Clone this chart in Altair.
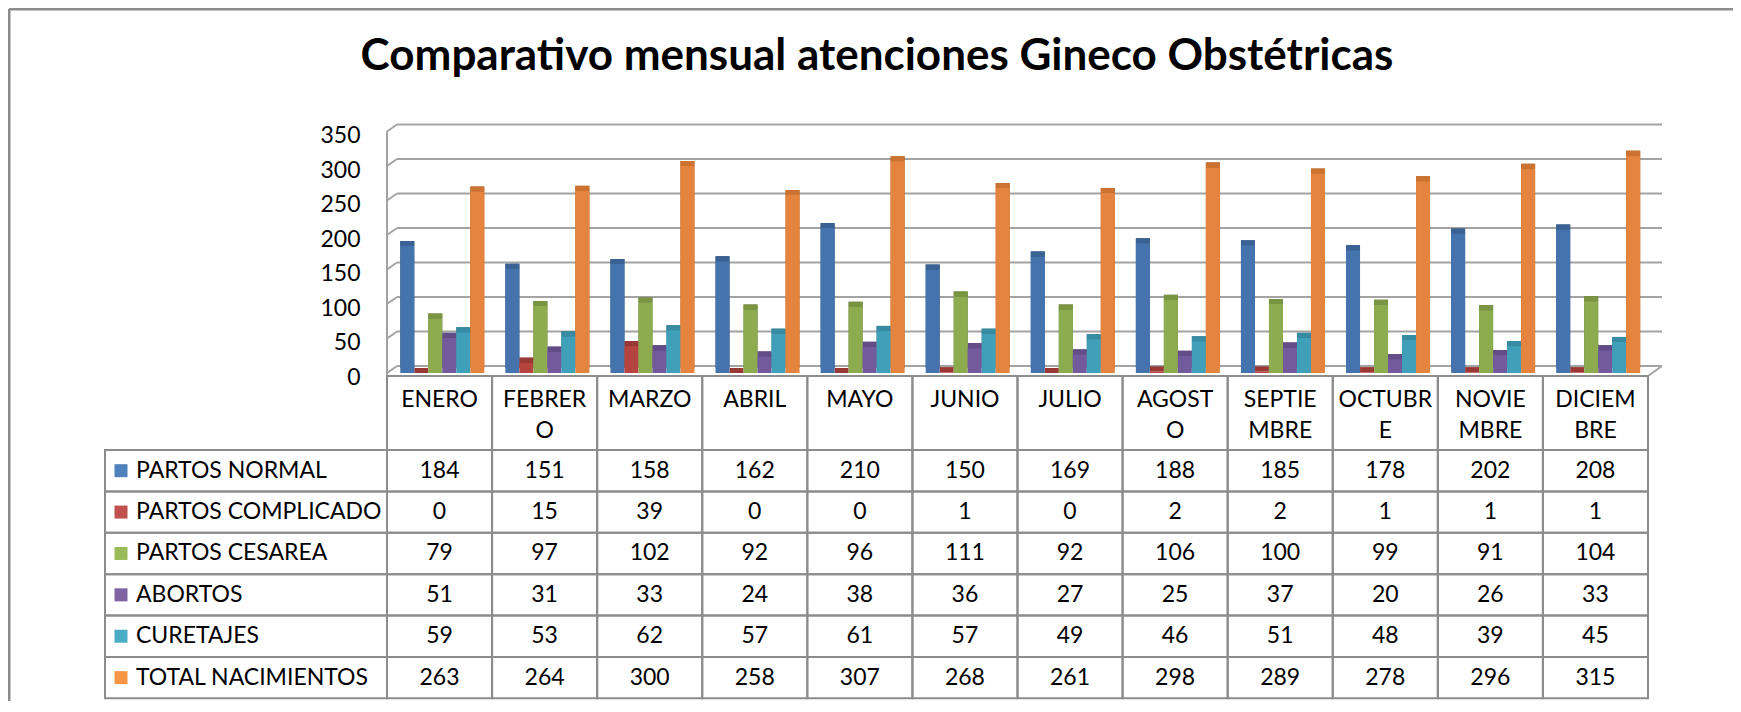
import altair as alt
import pandas as pd

# ---------------- data ----------------
months = ["ENERO", "FEBRERO", "MARZO", "ABRIL", "MAYO", "JUNIO", "JULIO",
          "AGOSTO", "SEPTIEMBRE", "OCTUBRE", "NOVIEMBRE", "DICIEMBRE"]
month_labels = ["ENERO", "FEBRER\nO", "MARZO", "ABRIL", "MAYO", "JUNIO", "JULIO",
                "AGOST\nO", "SEPTIE\nMBRE", "OCTUBR\nE", "NOVIE\nMBRE", "DICIEM\nBRE"]
series = ["PARTOS NORMAL", "PARTOS COMPLICADO", "PARTOS CESAREA",
          "ABORTOS", "CURETAJES", "TOTAL NACIMIENTOS"]
partos_normal = [184, 151, 158, 162, 210, 150, 169, 188, 185, 178, 202, 208]
partos_complicado = [0, 15, 39, 0, 0, 1, 0, 2, 2, 1, 1, 1]
partos_cesarea = [79, 97, 102, 92, 96, 111, 92, 106, 100, 99, 91, 104]
abortos = [51, 31, 33, 24, 38, 36, 27, 25, 37, 20, 26, 33]
curetajes = [59, 53, 62, 57, 61, 57, 49, 46, 51, 48, 39, 45]
total_nacimientos = [263, 264, 300, 258, 307, 268, 261, 298, 289, 278, 296, 315]
y_ticks = [0, 50, 100, 150, 200, 250, 300, 350]
title_text = "Comparativo mensual atenciones Gineco Obstétricas"

values = [partos_normal, partos_complicado, partos_cesarea, abortos, curetajes, total_nacimientos]
rows = []
for s, vals in zip(series, values):
    for m, v in zip(months, vals):
        rows.append({"month": m, "series": s, "value": v, "base": 0})
df = pd.DataFrame(rows)
df_ticks = pd.DataFrame({"tick": y_ticks})
df_head = pd.DataFrame({"month": months, "label": month_labels})
df_series = pd.DataFrame({"series": series})
df_edge = pd.DataFrame({"hi": [max(y_ticks)], "lo": [min(y_ticks)]})
df_one = pd.DataFrame({"t": [title_text]})

# ---------------- styles ----------------
FONT = "Lato"
FS = 23
GRID = "#a3a3a3"
BORDER = "#8c8c8c"
front_cols = ["#4573ad", "#b5433f", "#8dab4f", "#735a9c", "#409fb9", "#e4843e"]
side_cols = ["#2c4d76", "#7d2a27", "#5f7632", "#4e3b6c", "#2a6e81", "#a65b22"]
top_cols = ["#3a6295", "#9a3835", "#7a9542", "#634d88", "#378ba2", "#cc7332"]
key_cols = ["#4f81bd", "#c0504d", "#9bbb59", "#8064a2", "#4bacc6", "#f79646"]

W, H = 1261, 579
xs = alt.Scale(domain=months, paddingInner=0, paddingOuter=0)
X = alt.X("month:N", scale=xs, sort=months, axis=None)
XO = alt.XOffset("series:N", sort=series,
                 scale=alt.Scale(domain=series, paddingInner=0, paddingOuter=0.753, align=0.63))
ybar = alt.Scale(domain=[0, 350], range=[253, 11.5], nice=False, zero=True)
yrow = alt.Scale(domain=series, range=[330, 578.3], paddingInner=0, paddingOuter=0)
YROW = alt.Y("series:N", scale=yrow, sort=series, axis=None)


def col(rng):
    return alt.Color("series:N", scale=alt.Scale(domain=series, range=rng), legend=None)


# frame
frame_left = alt.Chart(df_one).mark_rule(color="#8c8c8c", strokeWidth=3).encode(
    x=alt.value(-378), y=alt.value(-111), y2=alt.value(600))
frame_top = alt.Chart(df_one).mark_rule(color="#8c8c8c", strokeWidth=3).encode(
    x=alt.value(-378), x2=alt.value(1360), y=alt.value(-111))

# back wall gridlines with y axis
grid = alt.Chart(df_ticks).mark_rule(color=GRID, strokeWidth=2, yOffset=-7).encode(
    y=alt.Y("tick:Q", scale=ybar,
            axis=alt.Axis(values=y_ticks, domain=False, ticks=False, grid=False,
                          labelPadding=27, labelOffset=4, labelFont=FONT,
                          labelFontSize=FS, labelColor="#000000", title=None)),
    x=alt.value(10), x2=alt.value(1275))
diag = alt.Chart(df_ticks).mark_rule(color=GRID, strokeWidth=2, y2Offset=-7).encode(
    y=alt.Y("tick:Q", scale=ybar, axis=None), y2=alt.Y2("tick:Q"),
    x=alt.value(0), x2=alt.value(10))
left_edge = alt.Chart(df_edge).mark_rule(color=GRID, strokeWidth=2, y2Offset=3).encode(
    y=alt.Y("hi:Q", scale=ybar, axis=None), y2=alt.Y2("lo:Q"), x=alt.value(0))
floor_right = alt.Chart(df_edge).mark_rule(color=GRID, strokeWidth=2, yOffset=3, y2Offset=-7).encode(
    y=alt.Y("lo:Q", scale=ybar, axis=None), y2=alt.Y2("lo:Q"),
    x=alt.value(W), x2=alt.value(1275))

# 3D-looking bars
side = alt.Chart(df).mark_bar(xOffset=5, yOffset=-5, y2Offset=-5).encode(
    x=X, xOffset=XO, y=alt.Y("value:Q", scale=ybar, axis=None), y2=alt.Y2("base:Q"),
    color=col(side_cols))
top = alt.Chart(df).mark_bar(xOffset=2.5, yOffset=-5).encode(
    x=X, xOffset=XO, y=alt.Y("value:Q", scale=ybar, axis=None), y2=alt.Y2("value:Q"),
    color=col(top_cols))
front = alt.Chart(df).mark_bar().encode(
    x=X, xOffset=XO, y=alt.Y("value:Q", scale=ybar, axis=None), y2=alt.Y2("base:Q"),
    color=col(front_cols))

# data table
head_rect = alt.Chart(df_head).mark_rect(filled=False, stroke=BORDER, strokeWidth=2).encode(
    x=X, y=alt.value(256), y2=alt.value(330))
head_text = alt.Chart(df_head).mark_text(
    font=FONT, fontSize=FS, color="#000000", baseline="top", lineBreak="\n", lineHeight=31
).encode(x=X, y=alt.value(269), text="label:N")
cell_rect = alt.Chart(df).mark_rect(filled=False, stroke=BORDER, strokeWidth=2).encode(
    x=X, y=YROW)
cell_text = alt.Chart(df).mark_text(
    font=FONT, fontSize=FS, color="#000000", baseline="middle").encode(
    x=X, y=YROW, text="value:Q")
lab_rect = alt.Chart(df_series).mark_rect(filled=False, stroke=BORDER, strokeWidth=2).encode(
    x=alt.value(-282), x2=alt.value(0), y=YROW)
lab_key = alt.Chart(df_series).mark_square(size=169, filled=True, opacity=1).encode(
    x=alt.value(-266), y=YROW, color=col(key_cols))
lab_text = alt.Chart(df_series).mark_text(
    font=FONT, fontSize=FS, color="#000000", align="left", baseline="middle").encode(
    x=alt.value(-251), y=YROW, text="series:N")

title = alt.Chart(df_one).mark_text(
    font=FONT, fontSize=44, fontWeight="bold", color="#000000",
    align="center", baseline="alphabetic").encode(
    x=alt.value(490), y=alt.value(-50), text="t:N")

chart = alt.layer(
    frame_left, frame_top, grid, diag, left_edge, floor_right,
    side, top, front,
    head_rect, head_text, cell_rect, cell_text, lab_rect, lab_key, lab_text, title
).resolve_scale(
    y="independent", color="independent"
).properties(
    width=W, height=H,
    autosize=alt.AutoSizeParams(type="none"),
    padding={"left": 379, "top": 112, "right": 85, "bottom": 2},
    background="#ffffff"
).configure_view(stroke=None)

chart.save("out.html", embed_options={"renderer": "svg", "actions": False})
